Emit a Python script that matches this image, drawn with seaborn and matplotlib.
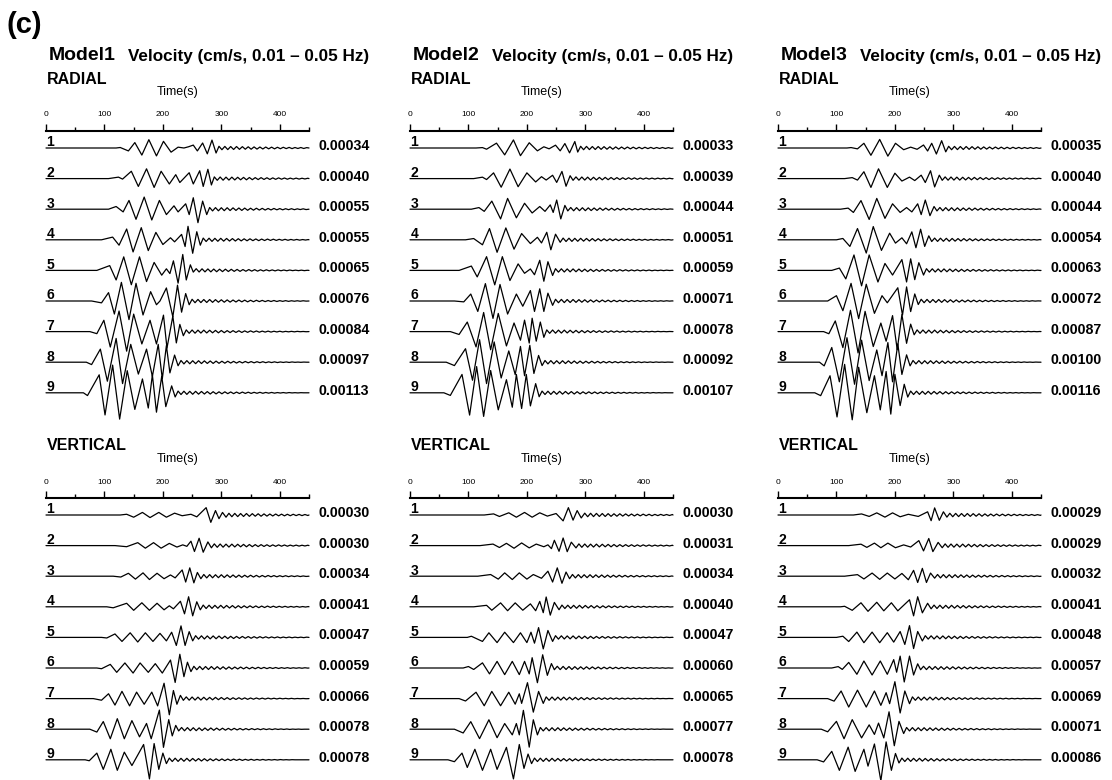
import pandas as pd
import seaborn as sns
import matplotlib.pyplot as plt

# ---- data -------------------------------------------------------------
models = ["Model1", "Model2", "Model3"]
components = ["RADIAL", "VERTICAL"]
time_ticks = [0, 100, 200, 300, 400]
time_minor = [50, 150, 250, 350, 450]

# peak velocity (cm/s) printed right of each trace, stations 1..9
peak_radial_m1 = [0.00034, 0.00040, 0.00055, 0.00055, 0.00065, 0.00076, 0.00084, 0.00097, 0.00113]
peak_radial_m2 = [0.00033, 0.00039, 0.00044, 0.00051, 0.00059, 0.00071, 0.00078, 0.00092, 0.00107]
peak_radial_m3 = [0.00035, 0.00040, 0.00044, 0.00054, 0.00063, 0.00072, 0.00087, 0.00100, 0.00116]
peak_vertical_m1 = [0.00030, 0.00030, 0.00034, 0.00041, 0.00047, 0.00059, 0.00066, 0.00078, 0.00078]
peak_vertical_m2 = [0.00030, 0.00031, 0.00034, 0.00040, 0.00047, 0.00060, 0.00065, 0.00077, 0.00078]
peak_vertical_m3 = [0.00029, 0.00029, 0.00032, 0.00041, 0.00048, 0.00057, 0.00069, 0.00071, 0.00086]

# waveform extrema: (time s, amplitude / trace peak)
radial_m1 = [
    [(120, 0), (127, .06), (141, -.35), (152, .65), (164, -.85), (176, 1), (189, -.95), (201, .8), (214, -.5), (226, .1), (236, 0), (244, .15), (252, .35), (259, -.35), (268, .6), (276, -.7), (284, .95), (291, -.6)],
    [(107, 0), (124, .15), (131, -.05), (146, .75), (158, -.8), (172, 1), (185, -.9), (197, .75), (211, -.55), (222, .4), (229, -.4), (245, .6), (252, -.55), (263, .8), (269, -.8), (277, .95), (283, -.65)],
    [(107, 0), (120, .2), (132, -.2), (142, .65), (154, -.75), (168, .9), (181, -.8), (194, .65), (206, -.4), (219, .25), (226, -.2), (239, .4), (245, -.4), (252, .85), (260, -1), (268, .6), (275, -.4)],
    [(95, 0), (114, .2), (125, -.4), (138, .8), (149, -.9), (163, .9), (175, -.8), (188, .55), (200, -.35), (213, .15), (220, -.15), (232, .4), (238, -.5), (243, 1), (251, -1), (258, .6), (264, -.4)],
    [(87, 0), (109, .3), (120, -.6), (133, .85), (146, -.9), (160, .85), (172, -.7), (185, .5), (198, -.3), (206, .1), (212, -.2), (218, .6), (226, -.8), (234, 1), (240, -.6), (247, .35)],
    [(78, 0), (95, -.1), (107, .45), (117, -.7), (129, 1), (142, -1), (154, .95), (166, -.75), (179, .5), (189, -.2), (195, 0), (206, .7), (217, -.85), (225, .85), (232, -.6), (239, .4), (245, -.2)],
    [(75, 0), (87, -.1), (99, .55), (110, -.75), (125, 1), (138, -.95), (150, .85), (164, -.6), (178, .55), (189, -.6), (201, .8), (207, -.8), (217, .75), (223, -.55), (229, .35), (235, -.2)],
    [(69, 0), (78, -.1), (93, .55), (105, -.8), (120, 1), (131, -.9), (145, .75), (158, -.5), (172, .55), (182, -.6), (192, .75), (199, -.7), (206, .7), (212, -.45), (220, .3), (226, -.15)],
    [(64, 0), (71, -.1), (91, .65), (101, -.8), (114, 1), (126, -.95), (139, .8), (152, -.6), (165, .5), (175, -.55), (182, .65), (189, -.7), (198, .6), (205, -.5), (215, .25), (221, -.15)],
]
radial_m2 = [
    [(113, 0), (124, .05), (131, -.15), (148, .6), (162, -.85), (177, 1), (189, -.95), (204, .65), (218, -.35), (229, .15), (238, -.1), (249, .35), (257, -.35), (265, .55), (273, -.6), (282, .8), (287, -.5)],
    [(109, 0), (124, .15), (131, -.1), (143, .6), (156, -.9), (171, 1), (185, -.85), (200, .6), (215, -.35), (225, .2), (233, -.15), (244, .35), (251, -.4), (260, .75), (267, -.8), (274, .3)],
    [(105, 0), (118, .15), (127, -.2), (140, .75), (155, -.9), (167, 1), (182, -.8), (196, .55), (209, -.35), (222, .25), (231, -.2), (240, .4), (245, -.3), (251, .85), (258, -.9), (265, .35)],
    [(95, 0), (109, .1), (124, -.4), (136, .9), (149, -1), (164, .95), (178, -.75), (191, .5), (206, -.3), (218, .2), (225, -.25), (234, .6), (241, -.8), (249, .45), (257, -.2)],
    [(84, 0), (105, .3), (115, -.45), (131, .95), (145, -1), (158, .95), (171, -.7), (185, .45), (196, -.2), (206, .1), (213, -.3), (222, .7), (229, -.75), (236, .6), (244, -.35)],
    [(76, 0), (92, -.05), (104, .4), (116, -.6), (129, 1), (142, -1), (154, .95), (167, -.75), (182, .4), (193, -.3), (206, .6), (213, -.6), (222, .7), (229, -.6), (236, .45), (244, -.25)],
    [(69, 0), (84, -.15), (98, .5), (113, -.8), (126, 1), (138, -.95), (151, .95), (165, -.75), (178, .45), (189, -.45), (196, .6), (204, -.6), (209, .7), (216, -.5), (223, .5), (229, -.3)],
    [(62, 0), (76, -.15), (95, .6), (107, -.8), (119, 1), (131, -.95), (144, .9), (156, -.7), (169, .5), (180, -.55), (189, .7), (196, -.6), (205, .75), (212, -.5), (220, .3), (226, -.15)],
    [(58, 0), (69, -.1), (89, .7), (102, -.85), (114, 1), (126, -.9), (138, .85), (151, -.65), (165, .5), (175, -.55), (182, .7), (191, -.6), (199, .7), (206, -.5), (215, .35), (221, -.15)],
]
radial_m3 = [
    [(118, 0), (125, .05), (136, -.1), (147, .55), (159, -.85), (174, 1), (188, -.95), (201, .55), (215, -.2), (227, .1), (238, -.15), (249, .35), (256, -.35), (263, .55), (271, -.7), (280, .85), (287, -.45)],
    [(114, 0), (127, .1), (136, -.15), (147, .7), (159, -.9), (172, 1), (187, -.9), (200, .55), (212, -.25), (225, .15), (234, -.2), (245, .35), (252, -.4), (261, .8), (268, -.85), (276, .35)],
    [(107, 0), (120, .1), (129, -.3), (142, .8), (156, -.95), (169, 1), (183, -.85), (196, .5), (209, -.3), (220, .15), (229, -.25), (239, .5), (245, -.5), (252, .85), (260, -.6), (267, .25)],
    [(100, 0), (111, .1), (123, -.5), (136, .85), (151, -1), (163, 1), (177, -.8), (191, .5), (201, -.25), (212, .15), (220, -.3), (229, .6), (236, -.6), (244, .8), (251, -.5), (258, .3)],
    [(92, 0), (105, .15), (116, -.55), (130, 1), (143, -1), (156, 1), (171, -.75), (183, .45), (196, -.3), (212, .7), (220, -.75), (227, .75), (234, -.6), (241, .5), (249, -.3)],
    [(85, 0), (100, .3), (111, -.55), (125, 1), (138, -1), (151, .95), (165, -.7), (178, .3), (187, -.1), (205, .75), (213, -.8), (220, .8), (227, -.6), (234, .4), (240, -.2)],
    [(78, 0), (87, -.1), (98, .5), (111, -.75), (124, 1), (137, -1), (149, .95), (163, -.7), (176, .4), (185, -.45), (196, .75), (204, -.85), (212, .8), (220, -.55), (227, .35), (233, -.15)],
    [(71, 0), (79, -.15), (92, .6), (105, -.8), (118, 1), (131, -.9), (143, .9), (156, -.75), (169, .5), (178, -.55), (188, .8), (196, -.8), (205, .75), (212, -.5), (220, .3), (226, -.15)],
    [(63, 0), (73, -.1), (89, .6), (101, -.85), (114, 1), (127, -.95), (138, .9), (152, -.7), (165, .6), (175, -.6), (185, .75), (193, -.75), (200, .65), (209, -.45), (216, .3), (222, -.15)],
]
vertical_m1 = [
    [(127, 0), (138, .1), (150, -.3), (165, .35), (178, -.35), (193, .35), (206, -.3), (220, .25), (233, -.1), (248, .1), (258, -.25), (274, 1), (282, -1), (290, .6), (296, -.5), (302, .35), (308, -.3)],
    [(118, 0), (138, -.15), (157, .4), (170, -.35), (184, .4), (197, -.35), (211, .3), (224, -.2), (234, .1), (241, -.1), (248, .6), (254, -.8), (262, 1), (269, -.9), (277, .5), (283, -.3)],
    [(115, 0), (128, -.1), (141, .35), (153, -.35), (166, .4), (177, -.4), (190, .35), (202, -.3), (213, .15), (221, -.2), (233, .75), (239, -.7), (246, 1), (253, -.8), (259, .45), (265, -.3)],
    [(104, 0), (115, -.1), (138, .35), (150, -.35), (164, .4), (177, -.35), (190, .35), (202, -.3), (211, .1), (218, -.2), (230, .55), (237, -.7), (244, 1), (251, -.9), (258, .5), (264, -.3)],
    [(95, 0), (104, -.05), (118, .3), (130, -.35), (144, .4), (157, -.4), (170, .4), (183, -.35), (195, .35), (206, -.3), (215, .45), (223, -.7), (231, 1), (238, -.7), (245, .5), (251, -.3)],
    [(87, 0), (95, -.05), (110, .25), (121, -.3), (135, .35), (149, -.35), (161, .35), (175, -.3), (187, .3), (199, -.35), (213, .55), (221, -1), (229, .95), (236, -.6), (242, .4), (248, -.25)],
    [(81, 0), (95, -.1), (107, .3), (118, -.4), (130, .45), (143, -.45), (155, .4), (168, -.35), (181, .4), (191, -.45), (202, .95), (211, -1), (218, .5), (224, -.35), (230, .2)],
    [(75, 0), (87, -.15), (98, .4), (110, -.5), (122, .55), (134, -.5), (147, .45), (160, -.4), (172, .3), (180, -.5), (194, 1), (201, -.95), (210, .5), (216, -.35), (222, .2)],
    [(67, 0), (74, -.05), (87, .35), (98, -.5), (111, .55), (122, -.55), (134, .4), (147, -.3), (167, .8), (177, -1), (185, .85), (193, -.5), (200, .35), (206, -.2)],
]
vertical_m2 = [
    [(127, 0), (143, .15), (153, -.2), (169, .3), (182, -.3), (196, .35), (209, -.3), (222, .3), (235, -.15), (250, .2), (262, -.8), (271, 1), (279, -.7), (286, .6), (293, -.4), (299, .25)],
    [(120, 0), (142, .2), (153, -.25), (165, .3), (178, -.35), (191, .35), (204, -.3), (216, .2), (229, -.15), (236, .1), (242, -.4), (247, .7), (255, -.75), (262, 1), (269, -.8), (276, .45), (284, -.3)],
    [(116, 0), (138, .2), (151, -.35), (162, .4), (175, -.4), (187, .4), (200, -.35), (211, .2), (225, -.25), (236, .6), (244, -.7), (252, 1), (260, -.85), (267, .5), (273, -.3)],
    [(109, 0), (131, .15), (140, -.35), (155, .4), (167, -.4), (180, .4), (193, -.35), (206, .3), (215, -.4), (222, .55), (228, -.6), (233, 1), (240, -.85), (247, .45), (255, -.3)],
    [(98, 0), (105, .1), (124, -.35), (135, .4), (149, -.45), (162, .45), (177, -.45), (189, .4), (200, -.45), (207, .45), (213, -.5), (220, .85), (228, -1), (236, .6), (244, -.35)],
    [(91, 0), (100, .1), (109, -.1), (124, .35), (136, -.4), (149, .45), (162, -.45), (175, .45), (187, -.45), (196, .45), (204, -.4), (209, .7), (218, -1), (227, .9), (235, -.5), (242, .3)],
    [(84, 0), (95, -.15), (113, .4), (127, -.45), (140, .45), (155, -.45), (169, .4), (180, -.35), (187, .3), (191, -.3), (201, 1), (211, -.85), (220, .45), (228, -.3)],
    [(76, 0), (91, -.2), (104, .4), (119, -.5), (135, .5), (149, -.45), (162, .3), (175, -.3), (182, .3), (187, -.3), (194, 1), (204, -.95), (211, .5), (218, -.3)],
    [(65, 0), (76, -.1), (89, .35), (98, -.4), (111, .55), (124, -.55), (138, .55), (149, -.5), (165, .65), (177, -1), (187, .8), (195, -.45), (202, .3), (208, -.2)],
]
vertical_m3 = [
    [(129, 0), (143, .15), (156, -.2), (169, .3), (183, -.3), (196, .3), (209, -.25), (223, .1), (240, -.2), (256, .45), (262, -.8), (268, 1), (276, -.75), (283, .45), (289, -.3)],
    [(121, 0), (142, .2), (152, -.25), (165, .35), (176, -.3), (188, .35), (201, -.3), (215, .1), (227, -.2), (241, .7), (249, -.75), (258, 1), (265, -.85), (274, .45), (281, -.3)],
    [(114, 0), (136, .2), (147, -.35), (161, .4), (174, -.4), (187, .4), (200, -.35), (212, .35), (223, -.45), (232, .75), (239, -.8), (247, 1), (254, -.8), (261, .4), (268, -.25)],
    [(107, 0), (114, .05), (127, -.35), (142, .4), (154, -.45), (169, .45), (181, -.4), (194, .4), (205, -.4), (225, .7), (232, -.9), (239, 1), (247, -.6), (256, .35), (262, -.2)],
    [(100, 0), (111, .1), (121, -.35), (135, .45), (147, -.45), (161, .45), (174, -.45), (187, .4), (198, -.4), (209, .5), (217, -.6), (225, 1), (232, -.95), (239, .5), (247, -.3)],
    [(92, 0), (103, .1), (110, -.1), (121, .4), (135, -.45), (147, .5), (161, -.5), (175, .5), (187, -.45), (198, .6), (203, -.3), (209, .85), (216, -1), (225, .85), (232, -.5), (239, .3)],
    [(85, 0), (96, -.15), (108, .45), (121, -.5), (136, .5), (151, -.5), (165, .45), (176, -.4), (185, .35), (191, -.3), (200, 1), (209, -.85), (217, .45), (225, -.3)],
    [(74, 0), (85, -.15), (100, .45), (113, -.55), (127, .55), (143, -.5), (156, .25), (165, -.3), (172, .35), (181, -.5), (190, 1), (199, -.95), (207, .45), (215, -.25)],
    [(67, 0), (78, -.1), (92, .4), (105, -.5), (120, .6), (132, -.55), (147, .5), (154, -.3), (165, .75), (176, -1), (185, .85), (194, -.5), (201, .3), (207, -.15)],
]

# short-period coda after the main arrivals: delay after last swing (s), size (1e-5 cm/s)
tail_dt = [5, 10, 15, 20, 25, 30, 35, 40, 45, 50, 55, 60, 65, 70, 75, 80, 85, 90, 95, 100,
           105, 110, 115, 120, 125, 130, 135, 140, 145, 150, 155, 160, 165, 170, 175, 180,
           185, 190, 195, 200, 205, 210, 215, 220, 225, 230]
tail_amp = [7, 7, 6.5, 6.5, 6, 6, 6, 5.5, 5.5, 5, 5, 5, 4.5, 4.5, 4, 4, 4, 3.5, 3.5, 3.5,
            3, 3, 3, 2.5, 2.5, 2.5, 2, 2, 2, 2, 1.5, 1.5, 1.5, 1.5, 1, 1, 1, 1, 1,
            .5, .5, .5, .5, 0, 0, 0]

waves = {("Model1", "RADIAL"): (radial_m1, peak_radial_m1),
         ("Model2", "RADIAL"): (radial_m2, peak_radial_m2),
         ("Model3", "RADIAL"): (radial_m3, peak_radial_m3),
         ("Model1", "VERTICAL"): (vertical_m1, peak_vertical_m1),
         ("Model2", "VERTICAL"): (vertical_m2, peak_vertical_m2),
         ("Model3", "VERTICAL"): (vertical_m3, peak_vertical_m3)}

# ---- layout (pixels) --------------------------------------------------
W, H = 1112, 780
PX = 24500       # px per cm/s
STEP = 30.6      # px between traces
GAP = 17         # px between time axis and trace 1
panel_left = [46, 410, 778]
panel_w = 263
axis_top = {"RADIAL": 131, "VERTICAL": 498}


def fx(px):
    return px / W


def fy(py):
    return 1 - py / H


def trace_frame(ext, peak, base, k):
    rows = [(0.0, base)]
    rows += [(t, base + a * peak) for t, a in ext]
    t_last, a_last = ext[-1]
    sign = -1 if a_last > 0 else 1
    for dt, m in zip(tail_dt, tail_amp):
        if t_last + dt >= 450:
            break
        rows.append((t_last + dt, base + sign * m * 1e-5))
        sign = -sign
    rows.append((450.0, base))
    df = pd.DataFrame(rows, columns=["t", "y"])
    df["trace"] = k + 1
    return df


sns.set_theme(style="white")
plt.rcParams["font.family"] = ["Liberation Sans", "DejaVu Sans"]
plt.rcParams["text.color"] = "black"
plt.rcParams["xtick.color"] = "black"

fig = plt.figure(figsize=(W / 100, H / 100), dpi=100)
fig.text(fx(6), fy(25), "(c)", fontsize=21, fontweight="bold", va="center", ha="left")

for i, model in enumerate(models):
    x0 = panel_left[i]
    fig.text(fx(x0 + 3), fy(56), model, fontsize=14, fontweight="bold", va="center")
    fig.text(fx(x0 + 82), fy(56), "Velocity (cm/s, 0.01 \u2013 0.05 Hz)", fontsize=12.3,
             fontweight="bold", va="center")
    for comp in components:
        ytop = axis_top[comp]
        below = GAP + 8 * STEP + 30
        ax = fig.add_axes([fx(x0), fy(ytop + below), panel_w / W, below / H])
        ext_list, peaks = waves[(model, comp)]
        frames = [trace_frame(ext_list[k], peaks[k], -k * STEP / PX, k) for k in range(9)]
        df = pd.concat(frames, ignore_index=True)
        sns.lineplot(data=df, x="t", y="y", units="trace", estimator=None, sort=False,
                     color="black", linewidth=0.9, legend=False, ax=ax, clip_on=False)
        ax.set_xlim(0, 450)
        ax.set_ylim(-(8 * STEP + 30) / PX, GAP / PX)
        ax.set_facecolor("none")
        for side in ["left", "right", "bottom"]:
            ax.spines[side].set_visible(False)
        ax.spines["top"].set_linewidth(1.5)
        ax.spines["top"].set_color("black")
        ax.xaxis.tick_top()
        ax.set_xticks(time_ticks)
        ax.set_xticks(time_minor, minor=True)
        ax.set_xticklabels([str(v) for v in time_ticks])
        ax.tick_params(axis="x", which="major", direction="out", length=5, width=1,
                       color="black", labelsize=6, pad=4, top=True, bottom=False)
        ax.tick_params(axis="x", which="minor", direction="out", length=3, width=1,
                       color="black", top=True, bottom=False)
        ax.set_yticks([])
        ax.set_xlabel("")
        ax.set_ylabel("")
        for k in range(9):
            base = -k * STEP / PX
            ax.annotate(str(k + 1), xy=(1, base), xytext=(0, 1.2), textcoords="offset points",
                        fontsize=10, fontweight="bold", ha="left", va="baseline")
            ax.annotate(f"{peaks[k]:.5f}", xy=(450, base), xytext=(6.5, 1.5),
                        textcoords="offset points", fontsize=10.2, fontweight="bold",
                        ha="left", va="center", annotation_clip=False)
        fig.text(fx(x0 + 1), fy(ytop - 52), comp, fontsize=11.5, fontweight="bold", va="center")
        fig.text(fx(x0 + 0.5 * panel_w), fy(ytop - 39), "Time(s)", fontsize=9,
                 ha="center", va="center")

fig.savefig("out.png", dpi=100)
